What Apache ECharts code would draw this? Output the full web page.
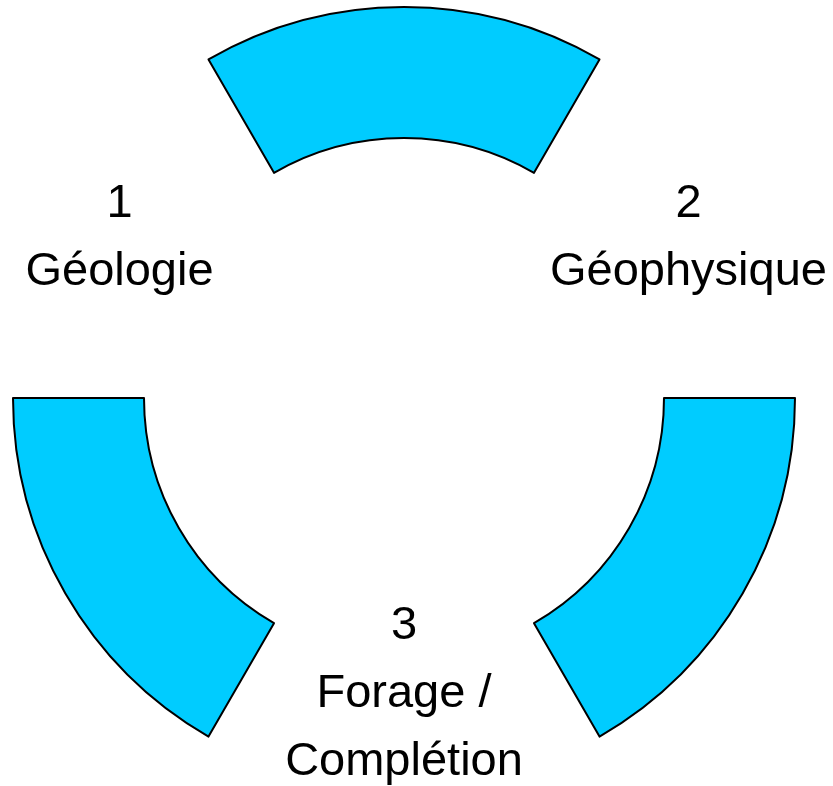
<!DOCTYPE html>
<html>
<head>
<meta charset="utf-8">
<script src="https://cdn.jsdelivr.net/npm/echarts@6/dist/echarts.min.js"></script>
<style>
html,body{margin:0;padding:0;background:#fff;}
#chart{width:833px;height:786px;}
</style>
</head>
<body>
<div id="chart"></div>
<script>
// Data
const stageNumbers = ['1', '2', '3'];
const stageNames = ['Géologie', 'Géophysique', 'Forage /\nComplétion'];
const segmentValues = [1, 1, 1];   // three arc segments (equal)
const gapValues = [1, 1, 1];       // three gaps holding the labels (equal)
// vertical label nudges (per stage) relative to mid-radius
const labelNudge = [4, 4, -32];

const data = [];
for (let i = 0; i < 3; i++) {
  data.push({
    name: 'segment' + i,
    value: segmentValues[i],
    itemStyle: { color: '#00CCFF', borderColor: '#000', borderWidth: 2 },
    label: { show: false }
  });
  const s = (i + 1) % 3;
  data.push({
    name: stageNumbers[s] + '\n' + stageNames[s],
    value: gapValues[s],
    stageIndex: s,
    itemStyle: { color: 'rgba(0,0,0,0)', borderWidth: 0 },
    label: { show: true }
  });
}

const chart = echarts.init(document.getElementById('chart'));
chart.setOption({
  animation: false,
  series: [{
    type: 'pie',
    center: [404, 398],
    radius: [260, 391],
    startAngle: 120,
    clockwise: true,
    avoidLabelOverlap: false,
    silent: true,
    emphasis: { disabled: true },
    label: {
      position: 'inside',
      formatter: '{b}',
      fontFamily: 'Liberation Sans, Arial, sans-serif',
      fontSize: 47,
      lineHeight: 68,
      color: '#000',
      align: 'center'
    },
    labelLine: { show: false },
    labelLayout: function (params) {
      const item = data[params.dataIndex];
      if (item && item.stageIndex !== undefined) {
        return { dy: labelNudge[item.stageIndex] };
      }
      return {};
    },
    data: data
  }]
});
</script>
</body>
</html>
